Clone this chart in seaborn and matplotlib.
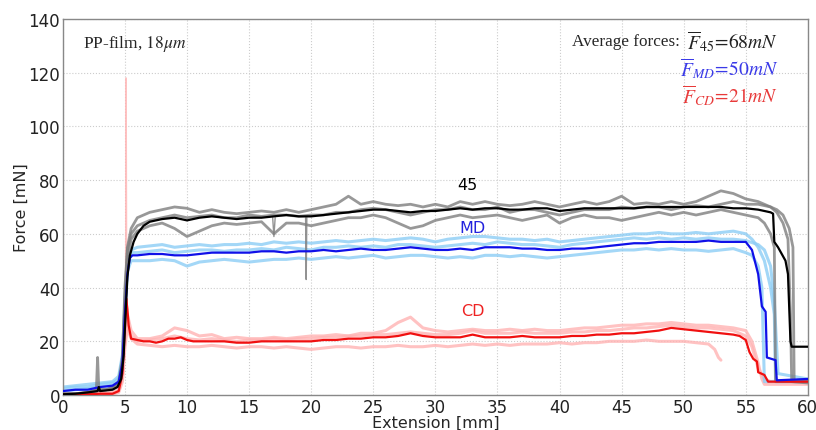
import numpy as np
import pandas as pd
import matplotlib
matplotlib.use("Agg")
import matplotlib.pyplot as plt
import seaborn as sns

# ---- main (averaged) curves ----
x_45 = [0, 1, 2, 2.8, 2.9, 3, 4, 4.4, 4.7, 4.9, 5.0, 5.1, 5.2, 5.4, 5.7, 6, 6.5, 7,
        8, 9, 10, 11, 12, 13, 14, 15, 16, 17, 18, 19, 20, 21, 22, 23, 24, 25, 26, 27,
        28, 29, 30, 31, 32, 33, 34, 35, 36, 37, 38, 39, 40, 41, 42, 43, 44, 45, 46,
        47, 48, 49, 50, 51, 52, 53, 54, 55, 56,
        56.5, 57, 57.2, 57.3, 57.6, 58.2, 58.4, 58.6, 58.7, 60]
y_45 = [0.3, 0.5, 1, 1.5, 3, 1.5, 2, 3, 6, 15, 25, 35, 44, 52, 57, 60, 63, 64.5,
        65.5, 66, 65, 66, 66.5, 66, 65.5, 66, 66, 66.5, 67, 66.5, 66.5, 67, 67.5, 68,
        68.5, 69, 69, 68.5, 68, 68.5, 68.5, 69, 69.5, 69, 69.5, 69.5, 69, 69, 69.5,
        69.5, 68.5, 69, 69.5, 69.5, 69.5, 69.5, 69.5, 70, 70, 70, 70, 70, 70, 70,
        69.5, 69.5, 69,
        68.5, 68, 67.5, 57, 55, 50, 45, 20, 18, 18]

x_md = [0, 1, 2, 3, 4, 4.5, 4.8, 5.0, 5.2, 5.4, 5.6, 6,
        7, 8, 9, 10, 11, 12, 13, 14, 15, 16, 17, 18, 19, 20, 21, 22, 23, 24, 25, 26,
        27, 28, 29, 30, 31, 32, 33, 34, 35, 36, 37, 38, 39, 40, 41, 42, 43, 44, 45,
        46, 47, 48, 49, 50, 51, 52, 53, 54, 55,
        55.5, 56, 56.3, 56.6, 56.7, 57.4, 57.5, 60]
y_md = [1.5, 2, 2, 3, 3.5, 5, 12, 30, 45, 51, 52, 52,
        52.5, 52.5, 52, 52, 52.5, 53, 53, 53, 53, 53.5, 53.5, 53, 53.5, 53.5, 54,
        53.5, 54, 54.5, 54, 54, 54.5, 55, 54.5, 54, 54, 54.5, 54, 55, 55, 55, 54.5,
        54.5, 54, 54, 54.5, 54.5, 55, 55.5, 56, 56.5, 56.5, 57, 57, 57, 57, 57.5, 57,
        57, 57,
        54, 45, 33, 31, 14, 13, 5.5, 6]

x_cd = [0, 1, 2, 3, 4, 4.5, 4.8, 5.0, 5.1, 5.2, 5.3, 5.5, 6, 6.5, 7, 7.5, 8, 8.5, 9,
        9.5, 10, 10.5, 11,
        12, 13, 14, 15, 16, 17, 18, 19, 20, 21, 22, 23, 24, 25, 26, 27, 28, 29, 30,
        31, 32, 33, 34, 35, 36, 37, 38, 39, 40, 41, 42, 43, 44, 45, 46, 47, 48, 49,
        50, 51, 52, 53, 54,
        54.5, 55, 55.3, 55.6, 55.9, 56.0, 56.5, 56.8, 60]
y_cd = [0.3, 0.3, 0.3, 0.5, 0.5, 1.5, 8, 25, 36, 32, 26, 21, 20.5, 20, 20, 19.5, 20,
        21, 21, 21.5, 20.5, 20, 20,
        20, 20, 19.5, 19.5, 20, 20, 20, 20, 20, 20.5, 20.5, 21, 21, 21.5, 21.5, 22,
        23, 22, 21.5, 21.5, 21.5, 22.5, 21.5, 21.5, 21.5, 22, 21.5, 21.5, 21.5, 22,
        22, 22.5, 22.5, 23, 23, 23.5, 24, 25, 24.5, 24, 23.5, 23, 22.5,
        22, 20.5, 16, 13.5, 12.5, 8.5, 7.5, 5, 5]

# ---- individual specimens (light traces) ----
head_gray = [0, 1, 2, 2.7, 2.8, 2.9, 3.5, 4, 4.5, 4.8, 5.0, 5.2, 5.5]
head_blue = [0, 1, 2, 3, 4, 4.5, 4.8, 5.0, 5.2, 5.5]
head_pink = [0, 1, 2, 3, 4, 4.5, 4.8, 5.0, 5.2, 5.5]

g1_head = [0.5, 0.5, 1, 2, 14, 2, 2, 2.5, 4, 12, 35, 55, 62]
g1_mid = [66, 68, 69, 70, 69.5, 68, 69, 68, 67.5, 68, 68.5, 68, 69, 68, 69, 70, 71,
          74, 71, 72, 71, 70.5, 71, 70, 71, 70, 72, 71, 72, 71, 70.5, 71, 72, 71, 70,
          71, 72, 71, 72, 74, 71, 71.5, 71, 72, 71, 72, 74, 76, 75, 73]
g1_tail_x = [56, 57, 57.5, 58, 58.4, 58.6, 58.7, 60]
g1_tail_y = [72, 70, 68, 64, 58, 30, 5, 4.5]

g2_head = [0.3, 0.4, 0.8, 1.5, 1.8, 1.8, 2, 2.5, 4, 10, 30, 50, 58]
g2_mid = [61, 63, 64, 62, 59, 61, 63, 64, 63.5, 64, 64.5, 60, 64, 64, 63, 64, 65,
          66, 66, 67, 66, 64, 62, 63, 65, 66, 67, 66, 66.5, 67, 66, 65, 66, 67, 64,
          66, 67, 66, 66, 65, 66, 67, 68, 67, 68, 67, 68, 69, 68, 67]
g2_tail_x = [56, 56.5, 57, 57.3, 57.4, 60]
g2_tail_y = [66, 64, 60, 55, 5, 5]

g3_head = [0.4, 0.5, 1, 1.8, 2.5, 1.8, 2, 3, 5, 14, 40, 54, 60]
g3_mid = [63, 65, 66, 67, 66, 66.5, 67, 66, 66, 67, 66.5, 67, 67, 66.5, 67, 67, 68,
          68, 69, 69.5, 69, 68, 67, 68, 69, 69, 70, 69, 69, 70, 68, 69, 69, 68, 67,
          68, 69, 69, 69, 70, 69.5, 70, 70, 69, 70, 70.5, 70, 71, 72, 71]
g3_tail_x = [56, 57, 57.5, 58, 58.5, 58.8, 58.9, 60]
g3_tail_y = [71, 70, 69, 67, 62, 55, 5, 5]

gray_spike_x = [16.9, 17.0, 17.1, 19.55, 19.6, 19.65]
gray_spike_y = [66, 59, 66, 66, 43, 66]
gray_spike_id = [1, 1, 1, 2, 2, 2]

b1_head = [3, 3.5, 4, 4.5, 5, 7, 15, 35, 50, 54]
b1_mid = [55, 55.5, 56, 55, 55.5, 56, 55.5, 56, 56, 56.5, 56, 57, 56.5, 57, 56.5, 57,
          57.5, 57, 57.5, 58, 57.5, 58, 58.5, 58, 57, 58, 58.5, 59, 59, 58.5, 58, 58,
          57.5, 58, 57, 57.5, 58, 58.5, 59, 59.5, 60, 60, 60.5, 60, 60, 60.5, 60, 60.5,
          61, 60]
b1_tail_x = [55.5, 56, 56.5, 57, 57.3, 57.4, 60]
b1_tail_y = [58, 55, 50, 40, 30, 5, 5]

b2_head = [1.5, 2, 2.5, 3, 3.5, 5, 12, 30, 46, 50]
b2_mid = [50, 50, 50.5, 50, 48, 49.5, 50, 50.5, 50, 49.5, 50, 50.5, 50.5, 51, 50.5,
          51, 51.5, 51, 51.5, 52, 51, 51.5, 52, 52, 51.5, 51, 51.5, 51, 52, 52, 51.5,
          52, 51.5, 51, 51.5, 52, 52.5, 53, 53.5, 54, 54, 54.5, 54, 54.5, 54, 54, 53.5,
          54, 54.5, 53]
b2_tail_x = [55.5, 56, 56.3, 56.5, 60]
b2_tail_y = [52, 48, 40, 5, 5.5]

b3_head = [2.5, 3, 3, 4, 4.5, 6, 14, 33, 48, 53]
b3_mid = [53, 53.5, 54, 53, 53.5, 54, 54, 53.5, 54, 54, 54.5, 54, 55, 54.5, 54, 55,
          55, 55.5, 55, 55.5, 55, 56, 56, 55.5, 55, 55.5, 56, 56.5, 56, 57, 56.5, 56,
          56, 55.5, 55, 56, 56.5, 57, 57.5, 58, 58.5, 58, 58.5, 58, 58.5, 58, 58.5, 58,
          58, 57.5]
b3_tail_x = [56, 56.5, 57, 57.3, 57.6, 60]
b3_tail_y = [56, 54, 48, 35, 8, 6]

p1_head = [0.3, 0.3, 0.3, 0.5, 0.5, 1.5, 6, 20, 30, 24]
p1_mid = [21, 21, 22, 25, 24, 22, 22.5, 21, 21.5, 21, 21, 21.5, 21, 21.5, 22, 22,
          22.5, 22, 23, 23, 24, 27, 29, 25, 24, 23.5, 24, 24.5, 24, 24, 24.5, 24, 24.5,
          24, 24, 24.5, 25, 25, 25.5, 26, 26, 26.5, 26.5, 27, 26.5, 26, 26, 25.5, 25,
          24]
p1_tail_x = [55.5, 56, 56.3, 56.5, 60]
p1_tail_y = [20, 12, 6, 4, 4]

p2_head = [0.2, 0.2, 0.2, 0.3, 0.4, 1, 5, 18, 25, 21]
p2_mid = [19, 18.5, 18, 18.5, 18, 18, 18.5, 18, 17.5, 18, 18, 17.5, 18, 17.5, 17,
          17.5, 18, 18, 17.5, 18, 18, 18.5, 18, 18, 18.5, 18, 18.5, 19, 18.5, 19, 18.5,
          19, 19, 19, 19.5, 19, 19.5, 19.5, 20, 20, 20, 20.5, 20, 20, 20, 19.5, 19]
p2_tail_x = [52.5, 52.8, 53]
p2_tail_y = [17, 14, 13]

p3_head = [0.5, 0.5, 0.5, 0.5, 1, 2, 8, 30, 25, 22]
p3_mid = [20, 20.5, 21, 22, 21, 20.5, 21, 20.5, 20, 20.5, 20.5, 21, 20.5, 21, 21,
          21.5, 21.5, 22, 22, 22.5, 22.5, 23, 23.5, 23, 22.5, 22.5, 23, 24, 23, 23, 23,
          23.5, 23, 23, 23, 23.5, 23.5, 24, 24, 24.5, 25, 25, 25.5, 26, 25.5, 25, 25,
          24.5, 24, 22]
p3_tail_x = [55.5, 56, 56.5, 57, 60]
p3_tail_y = [18, 10, 6, 5, 5]

pink_spike_x = [5.05, 5.1, 5.15]
pink_spike_y = [40, 118, 30]

# ---- style ----
sns.set_style("whitegrid")
plt.rcParams["mathtext.fontset"] = "stix"
plt.rcParams["font.family"] = ["DejaVu Sans"]

fig = plt.figure(figsize=(8.16, 4.31), dpi=100)
ax = fig.add_axes([0.077, 0.081, 0.913, 0.873])


def trace(head_x, head_y, mid, tail_x, tail_y):
    xs = head_x + list(range(6, 6 + len(mid))) + tail_x
    ys = head_y + mid + tail_y
    return pd.DataFrame({"x": xs, "y": ys})


def draw(df, color, lw, alpha=1.0, z=2):
    sns.lineplot(data=df, x="x", y="y", color=color, lw=lw, alpha=alpha,
                 estimator=None, sort=False, ax=ax, zorder=z)


pink = "#ffb3b3"
lblue = "#8ccdf5"
gray = "#7f7f7f"

for h, m, tx, ty in [(p1_head, p1_mid, p1_tail_x, p1_tail_y),
                     (p2_head, p2_mid, p2_tail_x, p2_tail_y),
                     (p3_head, p3_mid, p3_tail_x, p3_tail_y)]:
    draw(trace(head_pink, h, m, tx, ty), pink, 2.2, 0.8)
draw(pd.DataFrame({"x": pink_spike_x, "y": pink_spike_y}), pink, 1.0, 0.8)

for h, m, tx, ty in [(b1_head, b1_mid, b1_tail_x, b1_tail_y),
                     (b2_head, b2_mid, b2_tail_x, b2_tail_y),
                     (b3_head, b3_mid, b3_tail_x, b3_tail_y)]:
    draw(trace(head_blue, h, m, tx, ty), lblue, 2.2, 0.8)

for h, m, tx, ty in [(g1_head, g1_mid, g1_tail_x, g1_tail_y),
                     (g2_head, g2_mid, g2_tail_x, g2_tail_y),
                     (g3_head, g3_mid, g3_tail_x, g3_tail_y)]:
    draw(trace(head_gray, h, m, tx, ty), gray, 2.0, 0.8)
spikes = pd.DataFrame({"x": gray_spike_x, "y": gray_spike_y, "id": gray_spike_id})
for _, grp in spikes.groupby("id"):
    draw(grp, gray, 1.0, 0.85)

draw(pd.DataFrame({"x": x_cd, "y": y_cd}), "#f01010", 1.6, 1.0, 4)
draw(pd.DataFrame({"x": x_md, "y": y_md}), "#1010e8", 1.6, 1.0, 4)
draw(pd.DataFrame({"x": x_45, "y": y_45}), "black", 1.6, 1.0, 4)

ax.set_xlim(0, 60)
ax.set_ylim(0, 140)
ax.set_xticks(range(0, 61, 5))
ax.set_yticks(range(0, 141, 20))
ax.grid(True, color="#cccccc", linestyle=":", linewidth=0.8)
for s in ax.spines.values():
    s.set_color("#888888")
    s.set_linewidth(1.0)
ax.tick_params(axis="both", labelsize=12, colors="#222222", direction="in",
               length=3, pad=2)
ax.set_xlabel("Extension [mm]", fontsize=11.5, labelpad=-1)
ax.set_ylabel("Force [mN]", fontsize=11.5, labelpad=0)

# curve labels
ax.text(32.6, 78.5, "45", color="black", fontsize=11.5, ha="center", va="center")
ax.text(33.0, 62.5, "MD", color="#2222dd", fontsize=11.5, ha="center", va="center")
ax.text(33.0, 31.5, "CD", color="#ee2222", fontsize=11.5, ha="center", va="center")

serif = ["Liberation Serif", "DejaVu Serif"]
ax.text(0.027, 0.935, r"PP-film, $18\mu m$", transform=ax.transAxes,
        fontsize=12.5, family=serif, va="center", ha="left")
ax.text(0.828, 0.942, "Average forces:", transform=ax.transAxes,
        fontsize=12.3, family=serif, va="center", ha="right")
ax.text(0.96, 0.942, r"$\overline{F}_{45}\!=\!68mN$", transform=ax.transAxes,
        fontsize=14, family=serif, va="center", ha="right", color="#222222")
ax.text(0.96, 0.870, r"$\overline{F}_{MD}\!=\!50mN$", transform=ax.transAxes,
        fontsize=14, family=serif, va="center", ha="right", color="#3a3ae8")
ax.text(0.96, 0.798, r"$\overline{F}_{CD}\!=\!21mN$", transform=ax.transAxes,
        fontsize=14, family=serif, va="center", ha="right", color="#e83a3a")

fig.savefig("out.png", dpi=100)
